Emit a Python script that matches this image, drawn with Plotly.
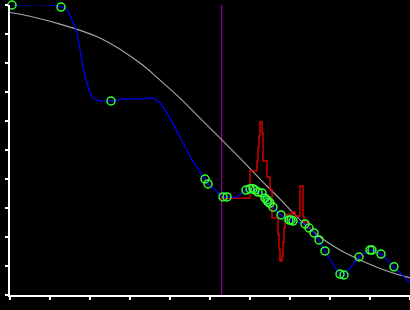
import plotly.graph_objects as go

# Gray reference curve
gray_x = [-0.25, 0.0, 1.25, 2.25, 3.25, 3.75, 4.25, 4.75, 5.275, 5.75, 6.3, 6.75, 7.25, 7.75, 8.25, 8.75, 9.5, 10.0, 10.25]
gray_y = [9.76, 9.74, 9.34, 8.86, 8.0, 7.41, 6.79, 6.10, 5.38, 4.72, 3.93, 3.31, 2.59, 2.0, 1.55, 1.21, 0.79, 0.59, 0.52]

# Blue smooth line
blue_x = [0.05, 1.0, 1.275, 1.425, 1.55, 1.675, 1.75, 1.825, 1.925, 2.05, 2.175, 2.325, 2.525, 2.825, 3.25, 3.575,
          3.75, 4.0, 4.25, 4.55, 4.875, 4.95, 5.15, 5.325, 5.425, 5.65, 5.9, 6.0, 6.075, 6.125, 6.2, 6.3, 6.375,
          6.425, 6.45, 6.5, 6.575, 6.775, 6.975, 7.025, 7.075, 7.375, 7.475, 7.6, 7.725, 7.875, 8.25, 8.35, 8.725,
          9.0, 9.05, 9.275, 9.6, 10.375]
blue_y = [10.0, 10.0, 9.93, 9.83, 9.48, 9.03, 8.45, 7.86, 7.31, 6.83, 6.72, 6.69, 6.69, 6.76, 6.76, 6.79,
          6.62, 6.10, 5.45, 4.66, 4.0, 3.83, 3.6, 3.38, 3.38, 3.38, 3.62, 3.66, 3.66, 3.62, 3.55, 3.52, 3.34,
          3.28, 3.21, 3.17, 3.03, 2.76, 2.59, 2.59, 2.55, 2.45, 2.31, 2.14, 1.90, 1.52, 0.72, 0.69, 1.31,
          1.55, 1.55, 1.41, 0.97, -0.1]

# Green markers
mark_x = [0.05, 1.275, 2.525, 4.875, 4.95, 5.325, 5.425, 5.9, 6.0, 6.075, 6.125, 6.2, 6.3, 6.375, 6.425, 6.45,
          6.5, 6.575, 6.775, 6.975, 7.025, 7.075, 7.375, 7.475, 7.6, 7.725, 7.875, 8.25, 8.35, 8.725, 9.0, 9.05,
          9.275, 9.6]
mark_y = [10.0, 9.93, 6.69, 4.0, 3.83, 3.38, 3.38, 3.62, 3.66, 3.66, 3.62, 3.55, 3.52, 3.34, 3.28, 3.21,
          3.17, 3.03, 2.76, 2.59, 2.59, 2.55, 2.45, 2.31, 2.14, 1.90, 1.52, 0.72, 0.69, 1.31, 1.55, 1.55,
          1.41, 0.97]

# Red step series
red_x = [5.225, 6.0, 6.175, 6.2, 6.225, 6.25, 6.3, 6.325, 6.425, 6.5, 6.55, 6.675, 6.7, 6.725, 6.75, 6.8,
         6.825, 6.85, 6.875, 6.925, 7.05, 7.125, 7.25, 7.325, 7.35, 7.425, 7.5]
red_y = [3.34, 4.28, 4.62, 5.10, 5.48, 5.97, 5.59, 4.62, 4.07, 3.62, 2.66, 2.66, 2.10, 1.59, 1.17, 1.34,
         1.83, 2.31, 2.62, 2.79, 2.86, 2.72, 3.76, 2.72, 2.52, 2.31, 2.24]

vline_x = 5.29

fig = go.Figure()
fig.add_vline(x=vline_x, line=dict(color="#8a008a", width=1.3), layer="below")
fig.add_trace(go.Scatter(x=gray_x, y=gray_y, mode="lines", line=dict(color="#a8a8a8", width=1.1, shape="spline")))
fig.add_trace(go.Scatter(x=red_x, y=red_y, mode="lines", line=dict(color="#e00000", width=1.4, shape="hv")))
fig.add_trace(go.Scatter(x=blue_x, y=blue_y, mode="lines", line=dict(color="#0000ff", width=1.2, shape="spline", smoothing=0.6)))
fig.add_trace(go.Scatter(x=mark_x, y=mark_y, mode="markers",
                         marker=dict(symbol="circle-open", size=8, color="#33ff33", line=dict(width=1.5)),
                         cliponaxis=False))

axis_common = dict(showgrid=False, zeroline=False, showline=True, linecolor="white", linewidth=1.5,
                   ticks="outside", ticklen=3, tickwidth=1.5, tickcolor="white", showticklabels=False)
fig.update_layout(
    width=410, height=310,
    margin=dict(l=10, r=0, t=5, b=15),
    paper_bgcolor="black", plot_bgcolor="black",
    showlegend=False,
    xaxis=dict(range=[0, 10], dtick=1, tick0=0, **axis_common),
    yaxis=dict(range=[0, 10], dtick=1, tick0=0, **axis_common),
)
fig.write_html("out.html")
